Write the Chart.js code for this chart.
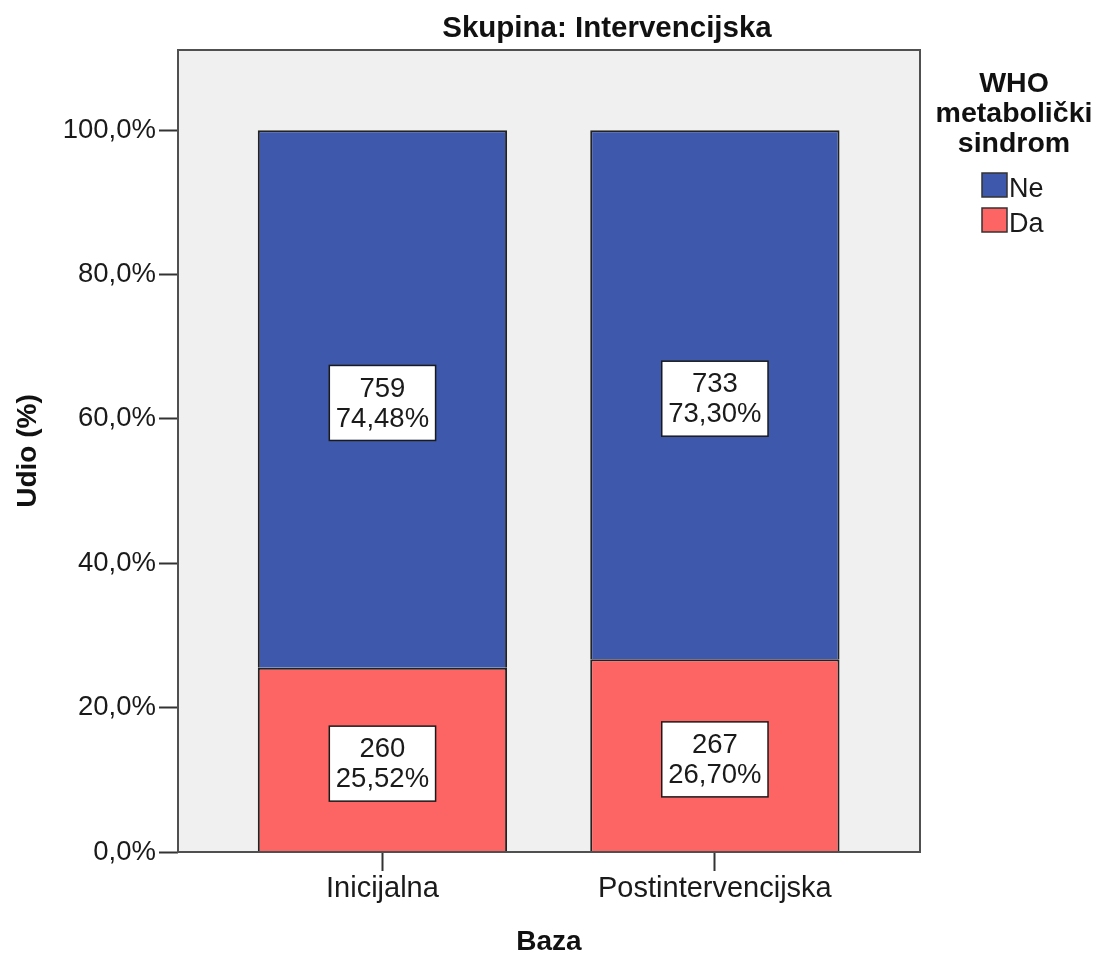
<!DOCTYPE html>
<html>
<head>
<meta charset="utf-8">
<script src="https://cdn.jsdelivr.net/npm/chart.js@4"></script>
<style>
  body { margin: 0; background: #fff; }
  canvas { display: block; }
</style>
</head>
<body>
<canvas id="chart" width="1100" height="956"></canvas>
<script>
const categories = ["Inicijalna", "Postintervencijska"];
const neCounts = [759, 733];
const daCounts = [260, 267];
const nePercent = [74.48, 73.30];
const daPercent = [25.52, 26.70];
const yTicks = [0, 20, 40, 60, 80, 100];

const FONT = "'Liberation Sans', Arial, sans-serif";
const BLUE = "#3e58ac";
const RED = "#fd6464";

function fmt(v, d) {
  return v.toFixed(d).replace(".", ",");
}

// plot background, frame, value boxes, title and legend
const frame = {
  id: "frame",
  beforeDraw(chart) {
    const { ctx, chartArea: a } = chart;
    ctx.save();
    ctx.fillStyle = "#f0f0f0";
    ctx.fillRect(a.left, a.top, a.right - a.left, a.bottom - a.top);
    ctx.restore();
  },
  afterDatasetsDraw(chart) {
    const { ctx, chartArea: a } = chart;
    ctx.save();
    ctx.strokeStyle = "#505050";
    ctx.lineWidth = 2;
    ctx.strokeRect(a.left, a.top, a.right - a.left, a.bottom - a.top);

    ctx.font = "27.5px " + FONT;
    ctx.textAlign = "center";
    ctx.textBaseline = "middle";
    chart.data.datasets.forEach((ds, di) => {
      const meta = chart.getDatasetMeta(di);
      meta.data.forEach((bar, i) => {
        const lines = [String(ds.counts[i]), fmt(ds.pct[i], 2) + "%"];
        const w = Math.max(...lines.map(l => ctx.measureText(l).width)) + 13;
        const h = 75;
        const cx = bar.x;
        const cy = (bar.y + bar.base) / 2 + 4;
        ctx.fillStyle = "#fff";
        ctx.fillRect(cx - w / 2, cy - h / 2, w, h);
        ctx.strokeStyle = "#1a1a1a";
        ctx.lineWidth = 1.5;
        ctx.strokeRect(cx - w / 2, cy - h / 2, w, h);
        ctx.fillStyle = "#1a1a1a";
        ctx.fillText(lines[0], cx, cy - 14);
        ctx.fillText(lines[1], cx, cy + 16);
      });
    });
    ctx.restore();
  },
  afterDraw(chart) {
    const { ctx } = chart;
    ctx.save();
    ctx.fillStyle = "#111";
    ctx.textAlign = "center";
    ctx.textBaseline = "alphabetic";
    ctx.font = "bold 29.5px " + FONT;
    ctx.fillText("Skupina: Intervencijska", 607, 37);

    ctx.font = "bold 28.5px " + FONT;
    ["WHO", "metabolički", "sindrom"].forEach((t, i) => {
      ctx.fillText(t, 1014, 92 + i * 30);
    });
    const items = [chart.data.datasets[1], chart.data.datasets[0]];
    ctx.font = "27px " + FONT;
    ctx.textAlign = "left";
    items.forEach((ds, i) => {
      const y = 173 + i * 35;
      ctx.fillStyle = ds.backgroundColor;
      ctx.fillRect(982, y, 25, 24);
      ctx.strokeStyle = "#333";
      ctx.lineWidth = 1.5;
      ctx.strokeRect(982, y, 25, 24);
      ctx.fillStyle = "#1a1a1a";
      ctx.fillText(ds.label, 1009, y + 24);
    });
    ctx.restore();
  }
};

new Chart(document.getElementById("chart"), {
  type: "bar",
  data: {
    datasets: [
      {
        label: "Da",
        data: daPercent.map((v, i) => ({ x: i, y: v })),
        counts: daCounts,
        pct: daPercent,
        backgroundColor: RED,
        borderColor: "#222",
        borderWidth: 2
      },
      {
        label: "Ne",
        data: nePercent.map((v, i) => ({ x: i, y: v })),
        counts: neCounts,
        pct: nePercent,
        backgroundColor: BLUE,
        borderColor: "#222",
        borderWidth: 2
      }
    ]
  },
  options: {
    responsive: false,
    animation: false,
    devicePixelRatio: 1,
    categoryPercentage: 1,
    barPercentage: 0.75,
    layout: { padding: { left: 0, right: 180, top: 50, bottom: 0 } },
    plugins: {
      legend: { display: false },
      title: { display: false },
      tooltip: { enabled: false }
    },
    scales: {
      x: {
        type: "linear",
        stacked: true,
        min: -0.615,
        max: 1.617,
        offset: false,
        afterBuildTicks(scale) {
          scale.ticks = categories.map((c, i) => ({ value: i }));
        },
        afterFit(scale) { scale.height = 104; },
        ticks: {
          autoSkip: false,
          padding: 1,
          color: "#1a1a1a",
          font: { family: FONT, size: 29 },
          callback: v => categories[v]
        },
        grid: {
          offset: false,
          drawOnChartArea: false,
          tickLength: 19,
          tickWidth: 2,
          tickColor: "#333"
        },
        border: { display: false },
        title: {
          display: true,
          text: "Baza",
          color: "#111",
          font: { family: FONT, size: 28, weight: "bold" },
          padding: { top: 0, bottom: -3 }
        }
      },
      y: {
        stacked: true,
        min: 0,
        max: 111.1,
        afterBuildTicks(scale) {
          scale.ticks = yTicks.map(v => ({ value: v }));
        },
        afterFit(scale) { scale.width = 178; },
        ticks: {
          padding: 3,
          color: "#1a1a1a",
          font: { family: FONT, size: 27.5 },
          callback: v => fmt(v, 1) + "%"
        },
        grid: {
          drawOnChartArea: false,
          tickLength: 19,
          tickWidth: 2,
          tickColor: "#333"
        },
        border: { display: false },
        title: {
          display: true,
          text: "Udio (%)",
          color: "#111",
          font: { family: FONT, size: 28, weight: "bold" },
          padding: { top: 11, bottom: 0 }
        }
      }
    }
  },
  plugins: [frame]
});
</script>
</body>
</html>
